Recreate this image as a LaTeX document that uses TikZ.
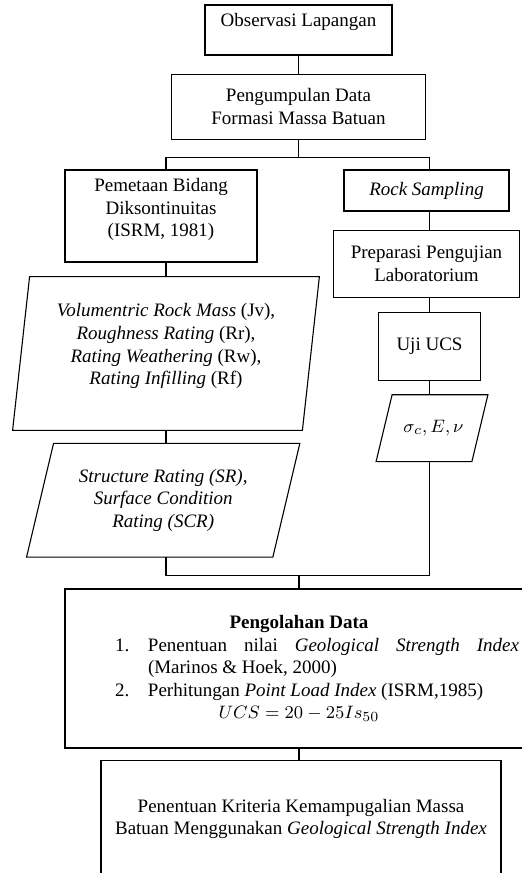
\documentclass[tikz,border=0pt]{standalone}
\usepackage{fontspec}
\setmainfont{Liberation Serif}
\usetikzlibrary{positioning,calc}

% parallelogram around a named node, #2 = half of the slant
\newcommand{\slantbox}[2]{%
  \draw[link] ($(#1.north west)+(#2,0)$) -- ($(#1.north east)+(#2,0)$)
    -- ($(#1.south east)-(#2,0)$) -- ($(#1.south west)-(#2,0)$) -- cycle;}

\begin{document}
\begin{tikzpicture}[
    x=0.5pt, y=-0.5pt,
    link/.style={line width=0.55pt},
    box/.style={draw, line width=0.55pt, align=center, inner sep=1.5pt, font=\fontsize{9.5}{11.3}\selectfont},
    slanted/.style={align=center, inner sep=1.5pt, font=\fontsize{9.5}{11.3}\selectfont}
  ]
    \useasboundingbox (0,0) rectangle (522,873);

    \node[box, minimum width=93.5pt, minimum height=25pt] (obs) at (298.5,30) {Observasi Lapangan\\[-1.2pt]\mbox{}};
    \node[box, minimum width=127pt, minimum height=32.5pt, below=9pt of obs] (kumpul) {Pengumpulan Data\\Formasi Massa Batuan};
    \coordinate[below=9pt of kumpul] (split);

    \node[box, minimum width=96pt, minimum height=46pt] (pemetaan) at (161,216) {Pemetaan Bidang\\Diksontinuitas\\(ISRM, 1981)\\[-3pt]\mbox{}};
    \node[slanted, minimum width=144.5pt, minimum height=76.5pt, below=7pt of pemetaan, xshift=2.5pt] (vol) {\textit{Volumentric Rock Mass} (Jv),\\\textit{Roughness Rating} (Rr),\\\textit{Rating Weathering} (Rw),\\\textit{Rating Infilling} (Rf)\\[-2pt]\mbox{}};
    \node[slanted, minimum width=122.75pt, minimum height=56.5pt, below=6.5pt of vol, xshift=-1.4pt] (struct) {\textit{Structure Rating (SR),}\\\textit{Surface Condition}\\\textit{Rating (SCR)}};

    \node[box, minimum width=82.5pt, minimum height=20.5pt] (sampling) at (426.5,190.5) {\textit{Rock Sampling}};
    \node[box, minimum width=93pt, minimum height=33.5pt, below=9pt of sampling] (prep) {Preparasi Pengujian\\Laboratorium};
    \node[box, minimum width=51pt, minimum height=34pt, below=7pt of prep, xshift=1.5pt] (uji) {Uji UCS};
    \node[slanted, minimum width=47.5pt, minimum height=33pt, below=7pt of uji, xshift=1.25pt] (sigma) {\hspace*{1.5pt}$\sigma_c, E, \nu$};

    \node[box, minimum width=234pt, minimum height=79.5pt] (olah) at (299,668.5) {\parbox{220pt}{\centering\textbf{Pengolahan Data}\par
      {\leftskip=34.5pt\rightskip=0pt\parfillskip=0pt plus 1fil
      \leavevmode\llap{\makebox[16.5pt][l]{1.}}Penentuan nilai \textit{Geological Strength Index}\linebreak (Marinos \& Hoek, 2000)\par
      \leavevmode\llap{\makebox[16.5pt][l]{2.}}Perhitungan \textit{Point Load Index} (ISRM,1985)\par}
      $UCS = 20 - 25Is_{50}$}};
    \coordinate[above=6.5pt of olah] (merge);
    \node[box, minimum width=200pt, minimum height=59pt, below=5.5pt of olah, xshift=1pt] (akhir) {Penentuan Kriteria Kemampugalian Massa\\Batuan Menggunakan \textit{Geological Strength Index}};

    \slantbox{vol}{4.25pt}
    \slantbox{struct}{6.75pt}
    \slantbox{sigma}{4pt}

    \draw[link] (obs) -- (kumpul);
    \draw[link] (kumpul) -- (split);
    \draw[link] (vol.north |- pemetaan.north) |- (split) -| (uji.north |- sampling.north);
    \draw[link] (vol.north |- pemetaan.south) -- (vol.north);
    \draw[link] (vol.south) -- (vol.south |- struct.north);
    \draw[link] (uji.north |- sampling.south) -- (uji.north |- prep.north);
    \draw[link] (uji.north |- prep.south) -- (uji.north);
    \draw[link] (uji.south) -- (uji.south |- sigma.north);
    \draw[link] (vol.south |- struct.south) |- (merge) -| (uji.south |- sigma.south);
    \draw[link] (merge) -- (merge |- olah.north);
    \draw[link] (olah.south -| merge) -- (akhir.north -| merge);
\end{tikzpicture}
\end{document}
